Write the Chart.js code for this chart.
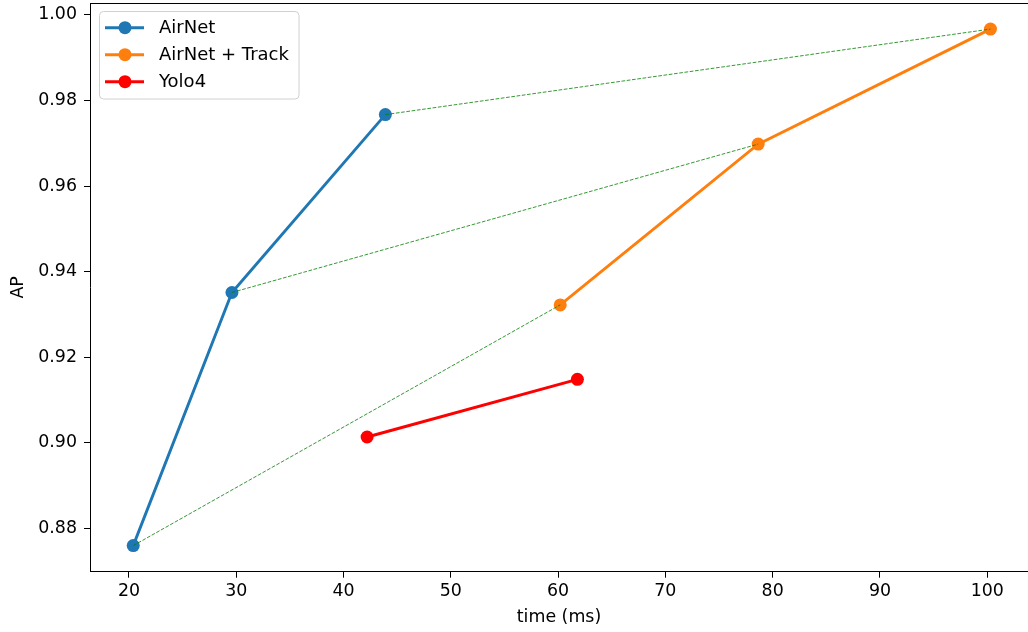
<!DOCTYPE html>
<html>
<head>
<meta charset="utf-8">
<script src="https://cdn.jsdelivr.net/npm/chart.js@4"></script>
<style>
  html, body { margin: 0; padding: 0; background: #fff; }
  #wrap { width: 1028px; height: 632px; }
</style>
</head>
<body>
<div id="wrap"><canvas id="chart" width="1028" height="632"></canvas></div>
<script>
// data
const airnetTime = [20.4, 29.6, 43.9];
const airnetAP = [0.8759, 0.9351, 0.9767];
const trackTime = [60.2, 78.65, 100.3];
const trackAP = [0.9322, 0.9698, 0.9967];
const yoloTime = [42.2, 61.8];
const yoloAP = [0.9013, 0.9148];
const xTicks = [20, 30, 40, 50, 60, 70, 80, 90, 100];
const yTicks = [0.88, 0.90, 0.92, 0.94, 0.96, 0.98, 1.00];

const FONT = 'DejaVu Sans';
const FSIZE = 17.4;

const toPts = (xs, ys) => xs.map((x, i) => ({ x: x, y: ys[i] }));

const series = [
  { label: 'AirNet', data: toPts(airnetTime, airnetAP), color: '#1f77b4' },
  { label: 'AirNet + Track', data: toPts(trackTime, trackAP), color: '#ff7f0e' },
  { label: 'Yolo4', data: toPts(yoloTime, yoloAP), color: '#ff0000' },
];

const datasets = series.map(s => ({
  label: s.label,
  data: s.data,
  showLine: true,
  borderColor: s.color,
  backgroundColor: s.color,
  borderWidth: 2.9,
  pointRadius: 6.5,
  pointBorderWidth: 0,
  pointHoverRadius: 6.5,
  order: 1,
}));

// green dashed links: each AirNet point to the matching AirNet + Track point
airnetTime.forEach((t, i) => {
  datasets.push({
    label: '_link' + i,
    data: [{ x: t, y: airnetAP[i] }, { x: trackTime[i], y: trackAP[i] }],
    showLine: true,
    borderColor: '#008000',
    borderWidth: 0.8,
    borderDash: [3.7, 1.6],
    pointRadius: 0,
    order: 0,
  });
});

// legend box inside the plot + top spine
const frame = {
  id: 'frame',
  afterDraw(chart) {
    const ctx = chart.ctx;
    const area = chart.chartArea;
    ctx.save();
    ctx.strokeStyle = '#000';
    ctx.lineWidth = 1;
    ctx.beginPath();
    ctx.moveTo(area.left, area.top + 0.5);
    ctx.lineTo(area.right, area.top + 0.5);
    ctx.stroke();

    const bx = 99.5, by = 11.5, bw = 199.5, bh = 87.5, r = 4;
    ctx.fillStyle = 'rgba(255,255,255,0.8)';
    ctx.strokeStyle = '#d0d0d0';
    ctx.beginPath();
    ctx.roundRect(bx, by, bw, bh, r);
    ctx.fill();
    ctx.stroke();

    ctx.font = '18px "' + FONT + '"';
    ctx.textBaseline = 'middle';
    series.forEach((s, i) => {
      const y = 27.7 + i * 27;
      ctx.strokeStyle = s.color;
      ctx.lineWidth = 2.9;
      ctx.beginPath();
      ctx.moveTo(105, y);
      ctx.lineTo(144, y);
      ctx.stroke();
      ctx.fillStyle = s.color;
      ctx.beginPath();
      ctx.arc(125, y, 6.5, 0, Math.PI * 2);
      ctx.fill();
      ctx.fillStyle = '#000';
      ctx.fillText(s.label, 159, y + 1);
    });
    ctx.restore();
  }
};

const ctx = document.getElementById('chart').getContext('2d');
new Chart(ctx, {
  type: 'scatter',
  data: { datasets: datasets },
  options: {
    responsive: false,
    animation: false,
    layout: { autoPadding: false, padding: { top: 3, right: 0, bottom: 0, left: 0 } },
    plugins: {
      legend: { display: false },
      tooltip: { enabled: false },
    },
    scales: {
      x: {
        type: 'linear',
        min: 16.37,
        max: 103.8,
        afterBuildTicks: axis => { axis.ticks = xTicks.map(v => ({ value: v })); },
        afterFit: scale => {
          scale.height = 60.3;
          scale.paddingLeft = 0;
          scale.paddingRight = 0;
        },
        grid: { drawOnChartArea: false, tickLength: 6, tickColor: '#000', tickWidth: 1 },
        border: { color: '#000', width: 1 },
        ticks: {
          color: '#000',
          padding: 3,
          font: { family: FONT, size: FSIZE },
          callback: v => String(v),
        },
        title: {
          display: true,
          text: 'time (ms)',
          color: '#000',
          font: { family: FONT, size: FSIZE },
          padding: { top: 2, bottom: 4.5 },
        },
      },
      y: {
        type: 'linear',
        min: 0.8698,
        max: 1.0028,
        afterBuildTicks: axis => { axis.ticks = yTicks.map(v => ({ value: v })); },
        afterFit: scale => {
          scale.width = 90;
          scale.paddingTop = 0;
          scale.paddingBottom = 0;
        },
        grid: { drawOnChartArea: false, tickLength: 6, tickColor: '#000', tickWidth: 1 },
        border: { color: '#000', width: 1 },
        ticks: {
          color: '#000',
          padding: 7,
          font: { family: FONT, size: FSIZE },
          callback: v => v.toFixed(2),
        },
        title: {
          display: true,
          text: 'AP',
          color: '#000',
          font: { family: FONT, size: FSIZE },
          padding: { top: 8.5, bottom: 4 },
        },
      },
    },
  },
  plugins: [frame],
});
</script>
</body>
</html>
